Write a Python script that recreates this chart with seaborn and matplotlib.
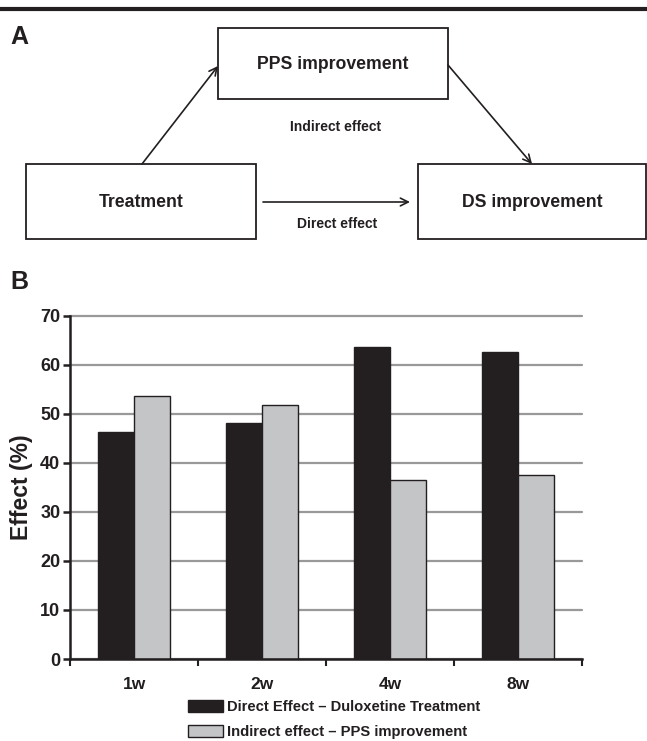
import matplotlib
matplotlib.use("Agg")
import matplotlib.pyplot as plt
from matplotlib.patches import Rectangle
import seaborn as sns
import pandas as pd

# ---- data ----
weeks = ["1w", "2w", "4w", "8w"]
direct_effect = [46.2, 48.1, 63.6, 62.5]
indirect_effect = [53.6, 51.8, 36.4, 37.5]
series_names = ["Direct Effect \u2013 Duloxetine Treatment",
                "Indirect effect \u2013 PPS improvement"]
y_ticks = [0, 10, 20, 30, 40, 50, 60, 70]

df = pd.DataFrame({
    "week": weeks * 2,
    "effect": direct_effect + indirect_effect,
    "series": [series_names[0]] * len(weeks) + [series_names[1]] * len(weeks),
})

sns.set_style("white")
plt.rcParams["font.family"] = ["Liberation Sans", "DejaVu Sans"]
plt.rcParams["font.weight"] = "bold"

W, H = 647, 741
fig = plt.figure(figsize=(W / 100, H / 100), dpi=100)

# ---- panel A: diagram in pixel coordinates ----
dax = fig.add_axes([0, 0, 1, 1])
dax.set_xlim(0, W)
dax.set_ylim(H, 0)
dax.axis("off")
dark = "#231F20"

dax.plot([0, W], [9, 9], color=dark, lw=3, solid_capstyle="butt")
dax.text(10, 37, "A", fontsize=18, fontweight="bold", va="center", ha="left", color=dark)
dax.text(10, 282, "B", fontsize=18, fontweight="bold", va="center", ha="left", color=dark)

boxes = [
    (218, 28, 448, 99, "PPS improvement"),
    (26, 164, 256, 239, "Treatment"),
    (418, 164, 646, 239, "DS improvement"),
]
for x0, y0, x1, y1, label in boxes:
    dax.add_patch(Rectangle((x0, y0), x1 - x0, y1 - y0, fill=False,
                            edgecolor=dark, lw=1.3))
    dax.text((x0 + x1) / 2, (y0 + y1) / 2 + 1, label, fontsize=12.7, fontweight="bold",
             ha="center", va="center", color=dark)

arrow_kw = dict(arrowstyle="->", color=dark, lw=1.2, mutation_scale=14,
                shrinkA=0, shrinkB=0)
dax.annotate("", xy=(218, 66), xytext=(142, 164), arrowprops=arrow_kw)
dax.annotate("", xy=(532, 164), xytext=(448, 65), arrowprops=arrow_kw)
dax.annotate("", xy=(410, 202), xytext=(263, 202), arrowprops=arrow_kw)
dax.text(336, 127, "Indirect effect", fontsize=10, fontweight="bold",
         ha="center", va="center", color=dark)
dax.text(337, 224, "Direct effect", fontsize=10, fontweight="bold",
         ha="center", va="center", color=dark)

# ---- panel B: bar chart ----
left, right, top, bottom = 70, 582, 315.7, 659
ax = fig.add_axes([left / W, (H - bottom) / H, (right - left) / W, (bottom - top) / H])
sns.barplot(data=df, x="week", y="effect", hue="series", ax=ax,
            palette=[dark, "#C4C5C7"], width=0.5625, edgecolor=dark,
            linewidth=1.0, saturation=1, dodge=True)

ax.set_ylim(0, 70)
ax.set_yticks(y_ticks)
ax.set_xlim(-0.5, len(weeks) - 0.5)
ax.yaxis.grid(True, color="#999999", lw=1.6)
for gl in ax.get_ygridlines():
    gl.set_clip_on(False)
ax.set_axisbelow(True)
for s in ["top", "right"]:
    ax.spines[s].set_visible(False)
for s in ["left", "bottom"]:
    ax.spines[s].set_color(dark)
    ax.spines[s].set_linewidth(1.8)
ax.set_xlabel("")
ax.set_ylabel("Effect (%)", fontsize=16.5, fontweight="bold", color=dark, labelpad=5)
ax.tick_params(axis="y", which="major", direction="out", length=5, width=1.8,
               color=dark, labelsize=13, labelcolor=dark, pad=2, left=True)
# category labels without ticks, boundary ticks as minor ticks
ax.tick_params(axis="x", which="major", length=0, labelsize=12.5, labelcolor=dark, pad=13)
ax.set_xticks([i + 0.5 for i in range(-1, len(weeks))], minor=True)
ax.tick_params(axis="x", which="minor", direction="out", length=5, width=1.5,
               color=dark, bottom=True)
for lab in ax.get_xticklabels() + ax.get_yticklabels():
    lab.set_fontweight("bold")

handles, labels = ax.get_legend_handles_labels()
ax.get_legend().remove()
fig.legend(handles, labels, loc="upper left",
           bbox_to_anchor=(188 / W, 1 - 700 / H), frameon=False,
           fontsize=10.6, handlelength=2.4, handleheight=0.9,
           handletextpad=0.25, labelspacing=0.72, borderpad=0, borderaxespad=0)
for t in fig.legends[0].get_texts():
    t.set_fontweight("bold")
    t.set_color(dark)

fig.savefig("out.png", dpi=100)
